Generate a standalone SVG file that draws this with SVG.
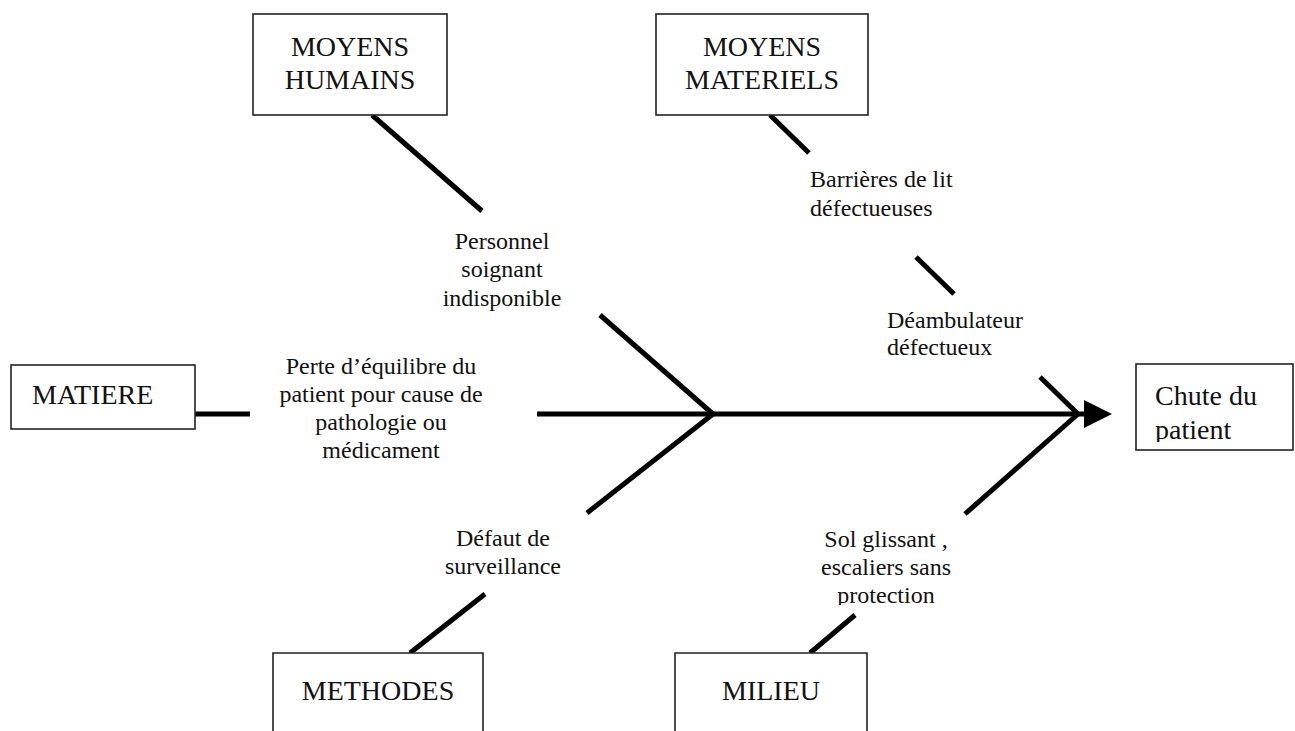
<svg xmlns="http://www.w3.org/2000/svg" width="1295" height="731" viewBox="0 0 1295 731">
<defs>
<style>
.box{fill:#fff;stroke:#222;stroke-width:1.6}
.bone{stroke:#000;stroke-width:5;fill:none;stroke-linecap:butt}
.t{font-family:"Liberation Serif","Times New Roman",serif;fill:#111}
.title{font-size:28px}
.lab{font-size:24px}
.c{text-anchor:middle}
</style>
<clipPath id="clipChute"><rect x="1136" y="364" width="160" height="78"/></clipPath>
<clipPath id="clipSol"><rect x="800" y="520" width="180" height="85"/></clipPath>
</defs>
<rect width="1295" height="731" fill="#fff"/>
<g id="connectors">
<line class="bone" x1="195" y1="414" x2="250" y2="414"/>
<line class="bone" x1="537" y1="414" x2="1086" y2="414"/>
<polygon points="1084,400 1112,414 1084,428" fill="#000"/>
<line class="bone" x1="372" y1="115" x2="482" y2="211"/>
<line class="bone" x1="600" y1="315" x2="713" y2="414"/>
<line class="bone" x1="713" y1="414" x2="587" y2="513"/>
<line class="bone" x1="485" y1="594" x2="410" y2="653"/>
<line class="bone" x1="770" y1="115" x2="809" y2="153"/>
<line class="bone" x1="916" y1="257" x2="954" y2="294"/>
<line class="bone" x1="1040" y1="377" x2="1078" y2="414"/>
<line class="bone" x1="1078" y1="414" x2="965" y2="514"/>
<line class="bone" x1="855" y1="615" x2="810" y2="653"/>
</g>
<g id="moyens-humains">
<rect class="box" x="253" y="14" width="194" height="101"/>
<text class="t title c" x="350" y="56">MOYENS</text>
<text class="t title c" x="350" y="89">HUMAINS</text>
</g>
<g id="moyens-materiels">
<rect class="box" x="656" y="14" width="212" height="101"/>
<text class="t title c" x="762" y="56">MOYENS</text>
<text class="t title c" x="762" y="89">MATERIELS</text>
</g>
<g id="matiere">
<rect class="box" x="11" y="365" width="184" height="64"/>
<text class="t title" x="32" y="404">MATIERE</text>
</g>
<g id="chute">
<rect class="box" x="1136" y="364" width="157" height="86"/>
<g clip-path="url(#clipChute)">
<text class="t title" x="1155" y="405">Chute du</text>
<text class="t title" x="1155" y="439">patient</text>
</g>
</g>
<g id="methodes">
<path class="box" d="M273,735 V653 H483 V735"/>
<text class="t title c" x="378" y="700">METHODES</text>
</g>
<g id="milieu">
<path class="box" d="M675,735 V653 H867 V735"/>
<text class="t title c" x="771" y="700">MILIEU</text>
</g>
<g id="label-personnel">
<text class="t lab c" x="502" y="249">Personnel</text>
<text class="t lab c" x="502" y="277">soignant</text>
<text class="t lab c" x="502" y="306">indisponible</text>
</g>
<g id="label-perte">
<text class="t lab c" x="381" y="374">Perte d’équilibre du</text>
<text class="t lab c" x="381" y="402">patient pour cause de</text>
<text class="t lab c" x="381" y="430">pathologie ou</text>
<text class="t lab c" x="381" y="458">médicament</text>
</g>
<g id="label-defaut">
<text class="t lab c" x="503" y="546">Défaut de</text>
<text class="t lab c" x="503" y="574">surveillance</text>
</g>
<g id="label-barrieres">
<text class="t lab" x="810" y="187">Barrières de lit</text>
<text class="t lab" x="810" y="216">défectueuses</text>
</g>
<g id="label-deambulateur">
<text class="t lab" x="887" y="328">Déambulateur</text>
<text class="t lab" x="887" y="355">défectueux</text>
</g>
<g id="label-sol">
<g clip-path="url(#clipSol)">
<text class="t lab c" x="886" y="547">Sol glissant ,</text>
<text class="t lab c" x="886" y="575">escaliers sans</text>
<text class="t lab c" x="886" y="603">protection</text>
</g>
</g>
</svg>
